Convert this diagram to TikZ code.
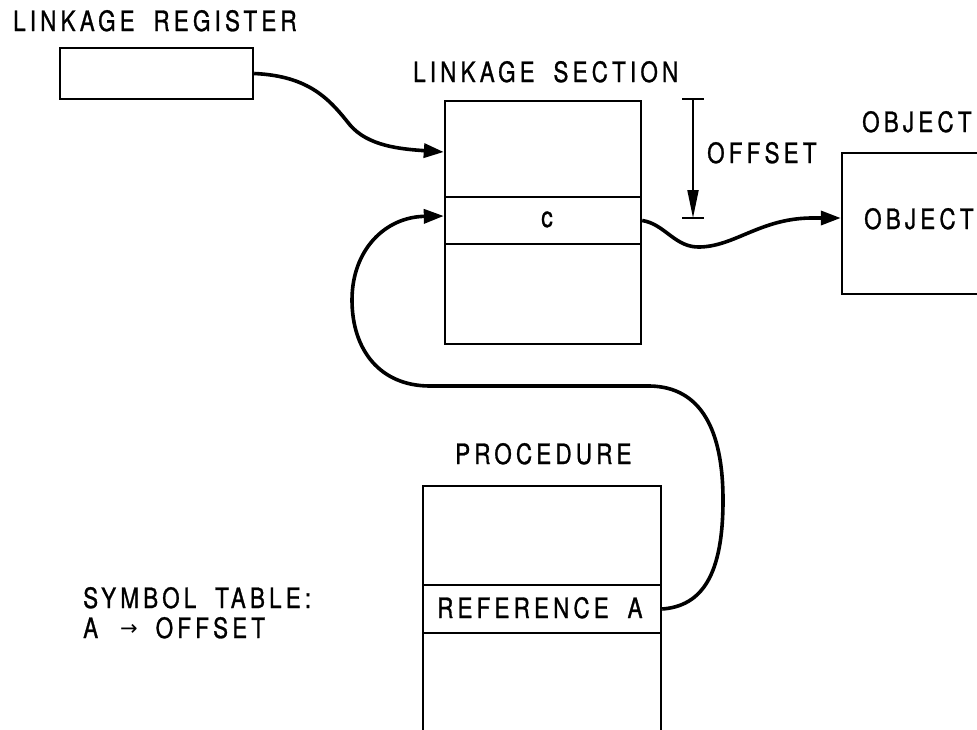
\documentclass[tikz,border=0pt]{standalone}
\usepackage{fontspec}
\setmainfont{TeX Gyre Heros}[FakeStretch=0.8,LetterSpace=15,WordSpace=1.8,FakeBold=1]
\newfontfamily\arrowfont{DejaVu Sans}
\usetikzlibrary{arrows.meta,calc}
\begin{document}
\begin{tikzpicture}[x=1pt,y=-1pt,
  lbl/.style={inner sep=0pt,font=\fontsize{28}{32}\selectfont,anchor=base west},
  box/.style={draw,line width=2.4pt,inner sep=0pt},
  link/.style={line width=3.6pt,-{Triangle[length=20pt,width=14pt]}},
  tick/.style={line width=2pt}
]
\useasboundingbox (0,0) rectangle (977,729);
% linkage register
\node[lbl] (tReg) at (13,31) {LINKAGE REGISTER};
\node[box,minimum width=193pt,minimum height=51pt] (reg) at (156.5,73.5) {};
% linkage section
\node[lbl] (tLs) at (413,82) {LINKAGE SECTION};
\node[box,minimum width=196pt,minimum height=243pt] (ls) at (543,222.5) {};
\node[box,minimum width=196pt,minimum height=47pt] (lsc) at (543,220.5) {};
\node[inner sep=0pt,anchor=base,font=\fontsize{29}{29}\selectfont] (c) at (547,227) {c};
% offset
\coordinate (oT) at (693,99);
\coordinate (oB) at (693,218);
\draw[tick] ([xshift=-11pt]oT) -- ([xshift=11pt]oT);
\draw[tick] ([xshift=-11pt]oB) -- ([xshift=11pt]oB);
\draw[tick,-{Triangle[length=28pt,width=11pt]}] (oT) -- (oB);
\node[lbl] (tOff) at (707,163) {OFFSET};
% object
\node[lbl] (tObj) at (862,132) {OBJECT};
\node[box,minimum width=170pt,minimum height=141pt] (obj) at (927,223.5) {};
\node[lbl] (tObjIn) at (864,229) {OBJECT};
% procedure
\node[lbl] (tProc) at (455,464) {PROCEDURE};
\node[box,minimum width=238pt,minimum height=280pt] (proc) at (542,626) {};
\node[box,minimum width=238pt,minimum height=48pt] (pref) at (542,609) {};
\node[lbl] (tRef) at (437,618) {REFERENCE A};
% symbol table
\node[lbl] (tSym) at (83,608) {SYMBOL TABLE:};
\node[lbl] (tMap) at (83,638) {A\hspace{22pt}\raisebox{3pt}{\arrowfont\fontsize{21}{21}\selectfont →}\hspace{18pt}OFFSET};
% connectors
\draw[link] (reg.east) .. controls (310,76) and (330,100) .. (350,125)
  .. controls (368,146) and (400,149) .. ([yshift=70.5pt]ls.west);
\draw[link] (lsc.east) .. controls (665,224) and (675,248) .. (700,247)
  .. controls (735,246) and (760,219) .. (810,218) -- ([yshift=5.5pt]obj.west);
\draw[link] (pref.east) .. controls (702,606) and (723,575) .. (723,500)
  .. controls (723,430) and (701,387) .. (650,386) -- (430,386)
  .. controls (380,386) and (352,350) .. (352,300)
  .. controls (352,250) and (385,217) .. ([yshift=6.5pt]ls.west);
\end{tikzpicture}
\end{document}
